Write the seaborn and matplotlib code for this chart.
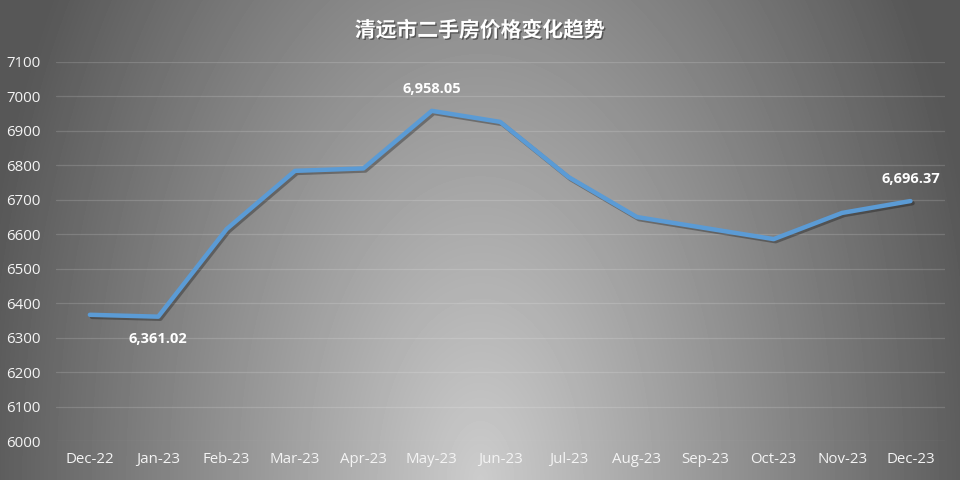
import numpy as np
import pandas as pd
import matplotlib
matplotlib.use("Agg")
import matplotlib.pyplot as plt
import matplotlib.patheffects as pe
import seaborn as sns

months = ["Dec-22", "Jan-23", "Feb-23", "Mar-23", "Apr-23", "May-23", "Jun-23",
          "Jul-23", "Aug-23", "Sep-23", "Oct-23", "Nov-23", "Dec-23"]
prices = [6366.5, 6361.02, 6615.0, 6784.0, 6791.0, 6958.05, 6926.0,
          6766.0, 6650.0, 6618.0, 6586.0, 6662.0, 6696.37]
labelled = {"Jan-23": "below", "May-23": "above", "Dec-23": "above"}
title = "清远市二手房价格变化趋势"

df = pd.DataFrame({"month": months, "price": prices})

sns.set_style("white")
plt.rcParams["font.family"] = ["Open Sans", "Noto Sans CJK SC", "DejaVu Sans"]

fig = plt.figure(figsize=(9.6, 4.8), dpi=100)

# radial grey background, light at bottom centre
bg = fig.add_axes([0, 0, 1, 1], zorder=0)
yy, xx = np.mgrid[0:480, 0:960]
r = np.sqrt(((xx - 480) / 510.0) ** 2 + ((yy - 480) / 900.0) ** 2)
r = np.clip(r, 0, 1)
val = 0.80 - (0.80 - 0.34) * r
bg.imshow(val, cmap="gray", vmin=0, vmax=1, aspect="auto",
          extent=[0, 1, 0, 1], origin="upper")
bg.axis("off")

ax = fig.add_axes([0.058, 0.081, 0.926, 0.79], zorder=1)
ax.set_facecolor("none")

sns.lineplot(data=df, x="month", y="price", ax=ax, color="#5B9BD5",
             linewidth=3.2, sort=False,
             path_effects=[pe.SimpleLineShadow(offset=(1.5, -1.5),
                                               shadow_color="black", alpha=0.3),
                           pe.Normal()])

ax.set_xlim(-0.5, len(months) - 0.5)
ax.set_ylim(6000, 7100)
ax.set_yticks(np.arange(6000, 7101, 100))
ax.yaxis.grid(True, color="white", alpha=0.15, linewidth=0.9)
ax.xaxis.grid(False)
for s in ax.spines.values():
    s.set_visible(False)
ax.set_xlabel("")
ax.set_ylabel("")
ax.tick_params(axis="both", length=0, colors="#f4f4f4", labelsize=10.8)
ax.tick_params(axis="y", pad=11)
ax.tick_params(axis="x", pad=8)

for i, (m, p) in enumerate(zip(months, prices)):
    if m in labelled:
        dy = 16 if labelled[m] == "above" else -16
        ax.annotate(f"{p:,.2f}", (i, p), xytext=(0, dy), textcoords="offset points",
                    ha="center", va="center", color="white", fontsize=10.5,
                    fontweight="bold")

fig.text(0.5, 0.937, title, ha="center", va="center", color="white",
         fontsize=15, fontweight="bold",
         family=["Noto Sans CJK SC", "DejaVu Sans"],
         path_effects=[pe.withSimplePatchShadow(offset=(1, -1),
                                                shadow_rgbFace="black", alpha=0.4)])

fig.savefig("out.png", dpi=100)
